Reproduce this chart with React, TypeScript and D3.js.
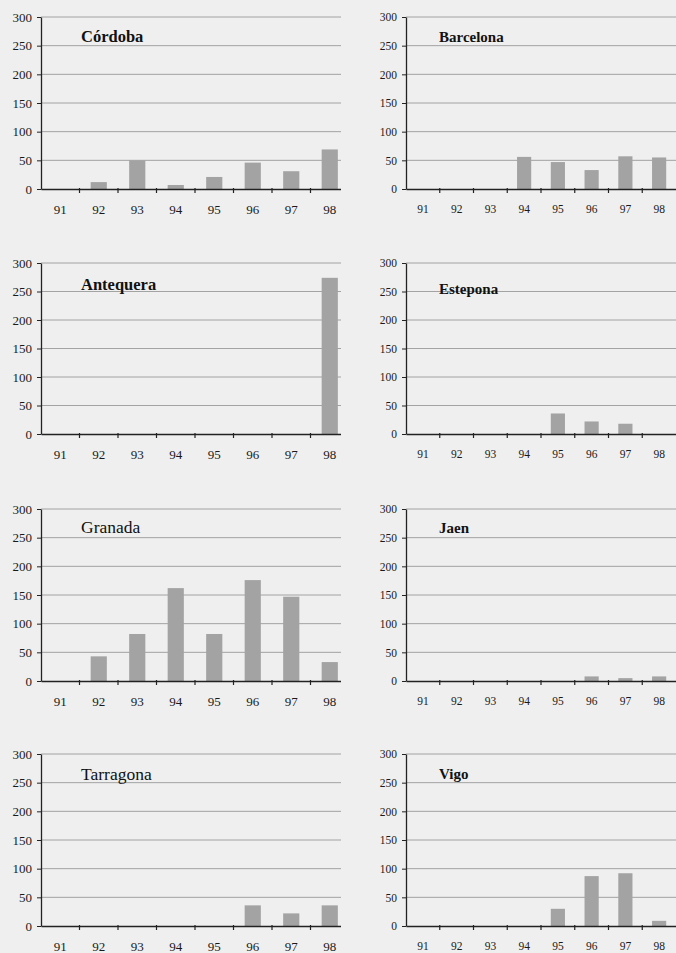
import React, { useRef, useEffect } from 'react';
import * as d3 from 'd3';

const years = ['91', '92', '93', '94', '95', '96', '97', '98'];
const yTicks = [0, 50, 100, 150, 200, 250, 300];

const cities = ['Córdoba', 'Barcelona', 'Antequera', 'Estepona', 'Granada', 'Jaen', 'Tarragona', 'Vigo'];

const cordoba = [0, 12, 50, 7, 21, 46, 31, 69];
const barcelona = [0, 0, 0, 56, 47, 33, 57, 55];
const antequera = [0, 0, 0, 0, 0, 0, 0, 274];
const estepona = [0, 0, 0, 0, 36, 22, 18, 0];
const granada = [0, 43, 82, 162, 82, 176, 147, 33];
const jaen = [0, 0, 0, 0, 0, 8, 5, 8];
const tarragona = [0, 0, 0, 0, 0, 36, 22, 36];
const vigo = [0, 0, 0, 0, 30, 87, 92, 9];

const seriesValues = [cordoba, barcelona, antequera, estepona, granada, jaen, tarragona, vigo];

// panel geometry (left column is wider on the scan, and cut at the page edge)
const cols = [
  { x0: 41, x1: 349, clip: 341, tickFont: 13, yearFont: 13, titleFont: 16.5, titleDx: 40 },
  { x0: 406, x1: 676, clip: 676, tickFont: 11.5, yearFont: 11.5, titleFont: 15, titleDx: 33 },
];
const rows = [
  { top: 17, bottom: 189 },
  { top: 263, bottom: 434 },
  { top: 509, bottom: 681 },
  { top: 754, bottom: 926 },
];
const titleDy = [25, 25, 27, 31, 24, 24, 26, 25];
const titleBold = [true, true, true, true, false, true, false, true];

const serif = '"Liberation Serif", "Times New Roman", "DejaVu Serif", serif';

const App: React.FC = () => {
  const svgRef = useRef<SVGSVGElement | null>(null);

  useEffect(() => {
    const svg = d3.select(svgRef.current);
    svg.selectAll('*').remove();

    svg.append('rect')
      .attr('width', 676)
      .attr('height', 953)
      .attr('fill', '#efefef');

    const defs = svg.append('defs');

    cities.forEach((city, i) => {
      const col = cols[i % 2];
      const row = rows[Math.floor(i / 2)];
      const values = seriesValues[i];

      defs.append('clipPath')
        .attr('id', `clip${i}`)
        .append('rect')
        .attr('x', 0)
        .attr('y', row.top - 20)
        .attr('width', col.clip)
        .attr('height', row.bottom - row.top + 50);

      const g = svg.append('g').attr('clip-path', `url(#clip${i})`);

      const x = d3.scaleBand()
        .domain(years)
        .range([col.x0, col.x1])
        .padding(0);

      const y = d3.scaleLinear()
        .domain([0, 300])
        .range([row.bottom, row.top]);

      // Gridlines
      g.selectAll('.grid')
        .data(yTicks.slice(1))
        .enter()
        .append('line')
        .attr('x1', col.x0)
        .attr('x2', col.x1)
        .attr('y1', d => y(d))
        .attr('y2', d => y(d))
        .attr('stroke', '#9a9a9a')
        .attr('stroke-width', 0.9);

      // Bars
      const barW = x.bandwidth() * 0.42;
      g.selectAll('.bar')
        .data(values.map((v, k) => ({ year: years[k], v })))
        .enter()
        .append('rect')
        .attr('x', d => x(d.year)! + (x.bandwidth() - barW) / 2)
        .attr('y', d => y(d.v))
        .attr('width', barW)
        .attr('height', d => row.bottom - y(d.v))
        .attr('fill', '#a3a3a3');

      // Y axis
      const yAxis = g.append('g')
        .attr('transform', `translate(${col.x0},0)`)
        .call(d3.axisLeft(y).tickValues(yTicks).tickSize(4).tickPadding(5).tickSizeOuter(0));
      yAxis.attr('font-family', serif);
      yAxis.select('.domain').attr('stroke', '#222').attr('stroke-width', 1.3);
      yAxis.selectAll('.tick line').attr('stroke', '#222').attr('stroke-width', 1);
      yAxis.selectAll('.tick text')
        .attr('fill', '#1a1a1a')
        .attr('font-family', serif)
        .attr('font-size', col.tickFont);

      // X axis
      const xAxis = g.append('g')
        .attr('transform', `translate(0,${row.bottom})`)
        .call(d3.axisBottom(x).tickSize(0).tickPadding(16).tickSizeOuter(0));
      xAxis.attr('font-family', serif);
      xAxis.select('.domain').attr('stroke', '#222').attr('stroke-width', 1.4);
      xAxis.selectAll('.tick text')
        .attr('fill', '#1a1a1a')
        .attr('font-family', serif)
        .attr('font-size', col.yearFont);

      // Tick marks on band boundaries
      g.selectAll('.xtick')
        .data(years.slice(1))
        .enter()
        .append('line')
        .attr('x1', d => x(d)!)
        .attr('x2', d => x(d)!)
        .attr('y1', row.bottom - 1)
        .attr('y2', row.bottom + 4)
        .attr('stroke', '#222')
        .attr('stroke-width', 1.2);

      // Title
      svg.append('text')
        .attr('x', col.x0 + col.titleDx)
        .attr('y', row.top + titleDy[i])
        .attr('font-family', serif)
        .attr('font-size', titleBold[i] ? col.titleFont : 17.5)
        .attr('font-weight', titleBold[i] ? 'bold' : 'normal')
        .attr('fill', '#111')
        .text(city);
    });
  }, []);

  return (
    <div style={{ position: 'absolute', left: 0, top: 0 }}>
      <svg ref={svgRef} width={676} height={953} style={{ display: 'block' }}></svg>
    </div>
  );
};

export default App;
